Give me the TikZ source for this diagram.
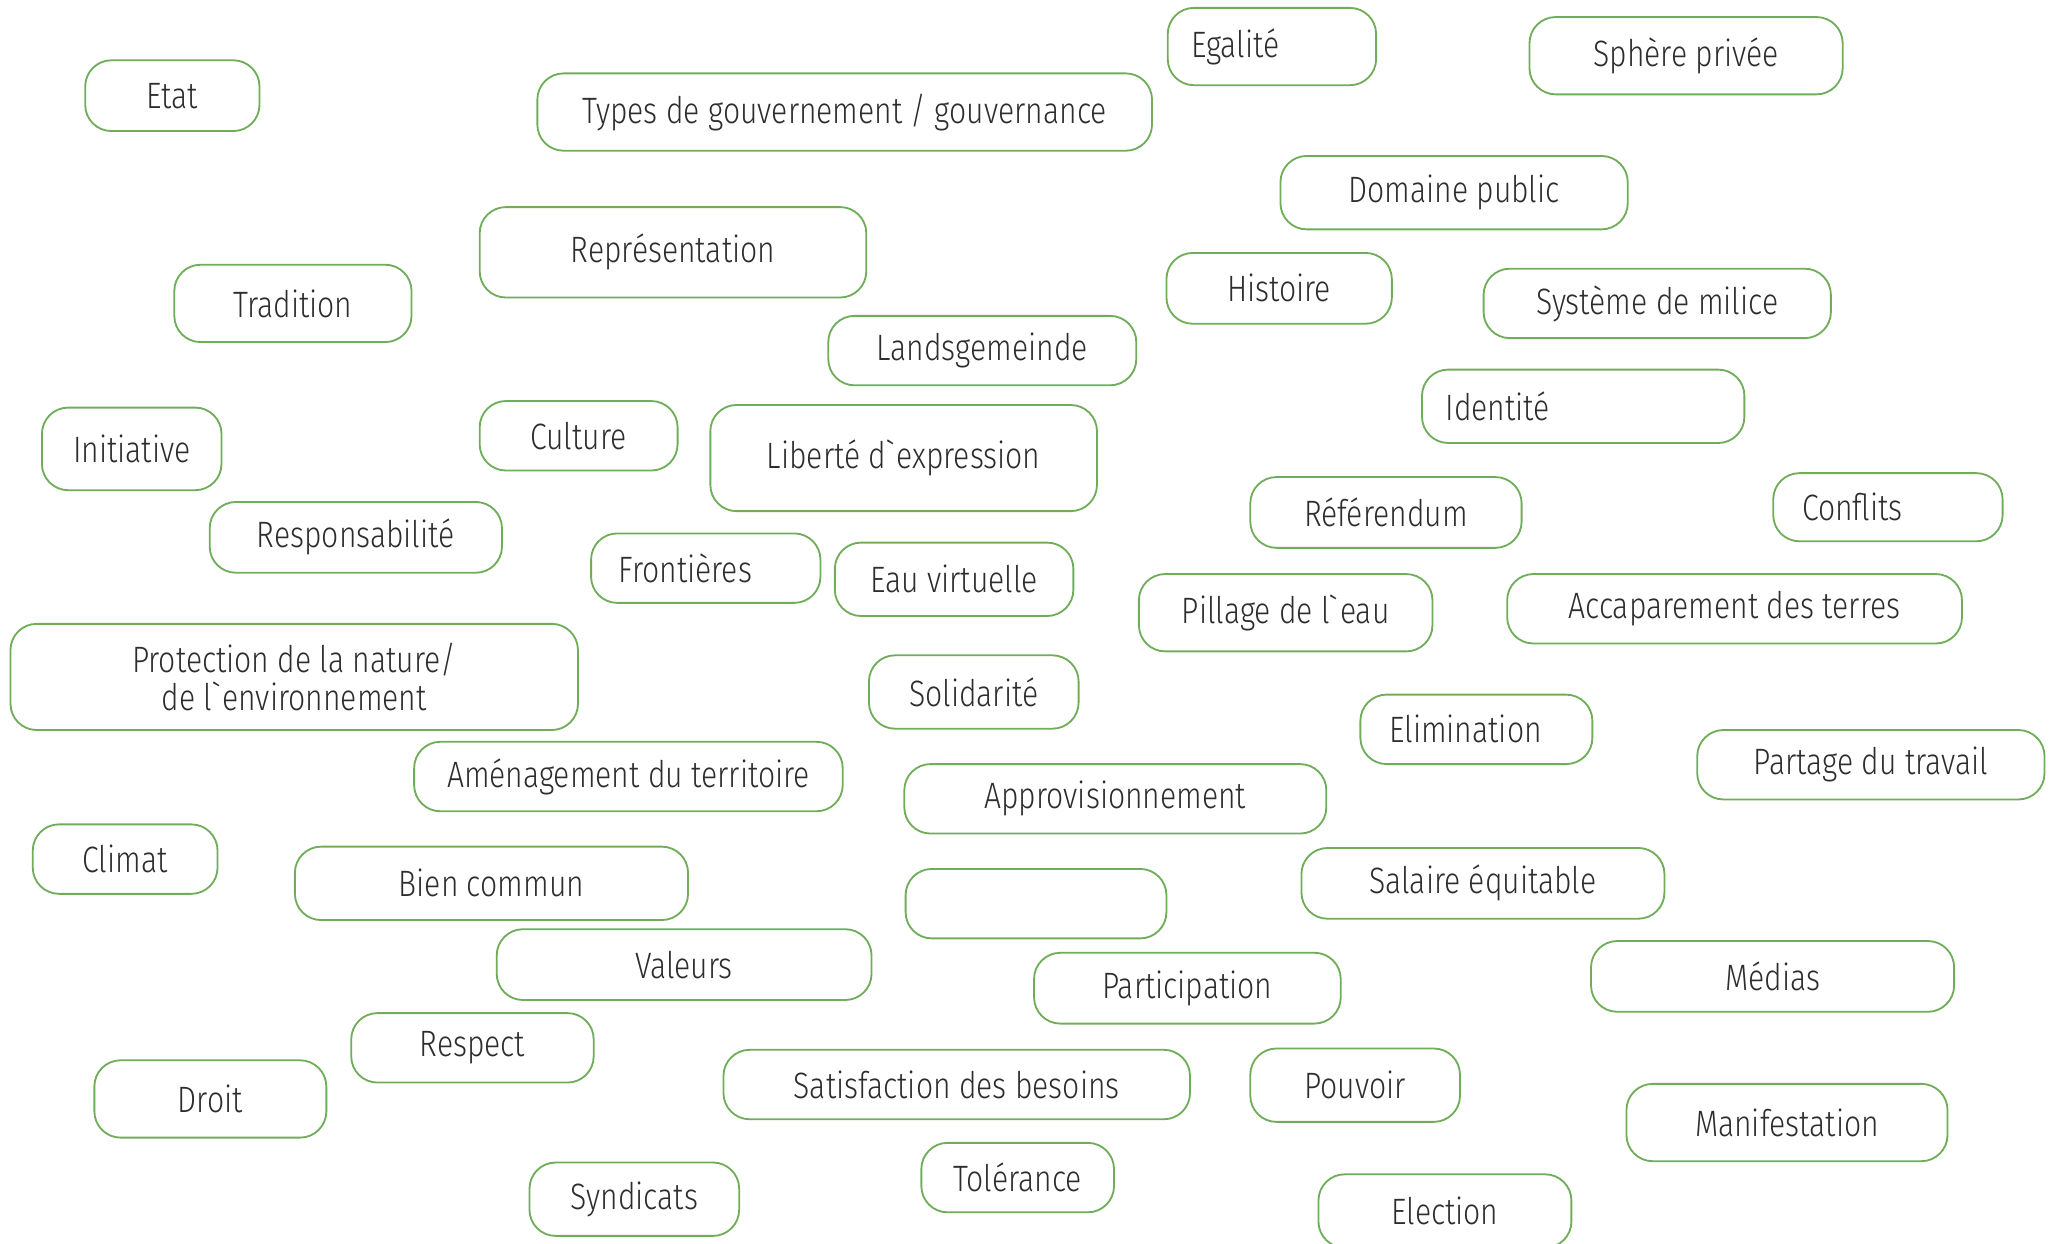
\documentclass[tikz,border=0pt]{standalone}
\usepackage{fontspec}
\setmainfont{Fira Sans Light}[FakeStretch=0.82]
\usepackage{tikz}
\definecolor{boxgreen}{RGB}{112, 173, 90}
\definecolor{txtgray}{RGB}{45, 45, 45}

\begin{document}
\begin{tikzpicture}[
  term/.style={draw=boxgreen, line width=0.7pt, rounded corners=10pt, text=txtgray,
    inner sep=0pt, align=center, font=\fontsize{14}{14.5}\selectfont},
  lterm/.style={term, align=left, inner xsep=9pt, text width=#1}]
\useasboundingbox (0pt, 0pt) rectangle (784pt, -474.5pt);
\node (etat) [term, minimum width=66.5pt, minimum height=27pt] at (65.75pt, -36.5pt) {Etat};
\node (types) [term, minimum width=234.5pt, minimum height=29.5pt] at (322.25pt, -42.75pt) {Types de gouvernement / gouvernance};
\node (egalite) [lterm=61.5pt, minimum height=29.5pt] at (485.25pt, -17.75pt) {Egalité};
\node (sphere) [term, minimum width=119.5pt, minimum height=29.5pt] at (643.25pt, -21.25pt) {Sphère privée};
\node (domaine) [term, minimum width=132.5pt, minimum height=28pt] at (554.75pt, -73.5pt) {Domaine public};
\node (repres) [term, minimum width=147.5pt, minimum height=34.5pt] at (256.75pt, -96.25pt) {Représentation};
\node (tradition) [term, minimum width=90.5pt, minimum height=29.5pt] at (111.75pt, -115.75pt) {Tradition};
\node (histoire) [term, minimum width=86pt, minimum height=27pt] at (488pt, -110pt) {Histoire};
\node (milice) [term, minimum width=132.5pt, minimum height=26.5pt] at (632.25pt, -115.75pt) {Système de milice};
\node (landsg) [term, minimum width=117.5pt, minimum height=26.5pt] at (374.75pt, -133.75pt) {Landsgemeinde};
\node (identite) [lterm=105pt, minimum height=28pt] at (604pt, -155pt) {Identité};
\node (initiative) [term, minimum width=68.5pt, minimum height=31.5pt] at (50.25pt, -171.25pt) {Initiative};
\node (culture) [term, minimum width=75.5pt, minimum height=26.5pt] at (220.75pt, -166.25pt) {Culture};
\node (liberte) [term, minimum width=147.5pt, minimum height=40.5pt] at (344.75pt, -174.75pt) {Liberté d\textasciigrave expression};
\node (referendum) [term, minimum width=103.5pt, minimum height=27pt] at (528.75pt, -195.5pt) {Référendum};
\node (conflits) [lterm=65.5pt, inner xsep=11pt, minimum height=26pt] at (720.25pt, -193.5pt) {Conflits};
\node (respons) [term, minimum width=111.5pt, minimum height=27pt] at (135.75pt, -205pt) {Responsabilité};
\node (frontieres) [lterm=66.5pt, inner xsep=10.5pt, minimum height=26.5pt] at (269.25pt, -216.75pt) {Frontières};
\node (eau) [term, minimum width=91pt, minimum height=28pt] at (364pt, -221pt) {Eau virtuelle};
\node (pillage) [term, minimum width=112pt, minimum height=29.5pt] at (490.5pt, -233.75pt) {Pillage de l\textasciigrave eau};
\node (accapar) [term, minimum width=173.5pt, minimum height=26.5pt] at (661.75pt, -232.25pt) {Accaparement des terres};
\node (protection) [term, minimum width=216.5pt, minimum height=40.5pt] at (112.25pt, -258.25pt) {Protection de la nature/\\de l\textasciigrave environnement};
\node (solidarite) [term, minimum width=80pt, minimum height=28pt] at (371.5pt, -264pt) {Solidarité};
\node (elimination) [lterm=66.5pt, inner xsep=11pt, minimum height=26.5pt] at (563.25pt, -278.25pt) {Elimination};
\node (partage) [term, minimum width=132.5pt, minimum height=26.5pt] at (713.75pt, -291.75pt) {Partage du travail};
\node (amenag) [term, minimum width=163.5pt, minimum height=26.5pt] at (239.75pt, -296.25pt) {Aménagement du territoire};
\node (approv) [term, minimum width=161pt, minimum height=26.5pt] at (425.5pt, -304.75pt) {Approvisionnement};
\node (climat) [term, minimum width=70.5pt, minimum height=26.5pt] at (47.75pt, -327.75pt) {Climat};
\node (bien) [term, minimum width=150pt, minimum height=28pt] at (187.5pt, -337pt) {Bien commun};
\node (vide) [term, minimum width=99.5pt, minimum height=26.5pt] at (395.25pt, -344.75pt) {};
\node (salaire) [term, minimum width=138.5pt, minimum height=27pt] at (565.75pt, -337pt) {Salaire équitable};
\node (valeurs) [term, minimum width=143pt, minimum height=27pt] at (261pt, -368pt) {Valeurs};
\node (particip) [term, minimum width=117pt, minimum height=27pt] at (453pt, -377pt) {Participation};
\node (medias) [term, minimum width=138.5pt, minimum height=27pt] at (676.25pt, -372.5pt) {Médias};
\node (respect) [term, minimum width=92.5pt, minimum height=26.5pt] at (180.25pt, -399.75pt) {Respect};
\node (droit) [term, minimum width=88.5pt, minimum height=29.5pt] at (80.25pt, -419.25pt) {Droit};
\node (satisf) [term, minimum width=178pt, minimum height=26.5pt] at (365pt, -413.75pt) {Satisfaction des besoins};
\node (pouvoir) [term, minimum width=80pt, minimum height=28pt] at (517pt, -414pt) {Pouvoir};
\node (manif) [term, minimum width=122.5pt, minimum height=29.5pt] at (681.75pt, -428.25pt) {Manifestation};
\node (syndicats) [term, minimum width=80pt, minimum height=28pt] at (242pt, -457.5pt) {Syndicats};
\node (tolerance) [term, minimum width=73.5pt, minimum height=26.5pt] at (388.25pt, -449.25pt) {Tolérance};
\node (election) [term, minimum width=96.5pt, minimum height=28pt] at (551.25pt, -462pt) {Election};
\end{tikzpicture}
\end{document}
